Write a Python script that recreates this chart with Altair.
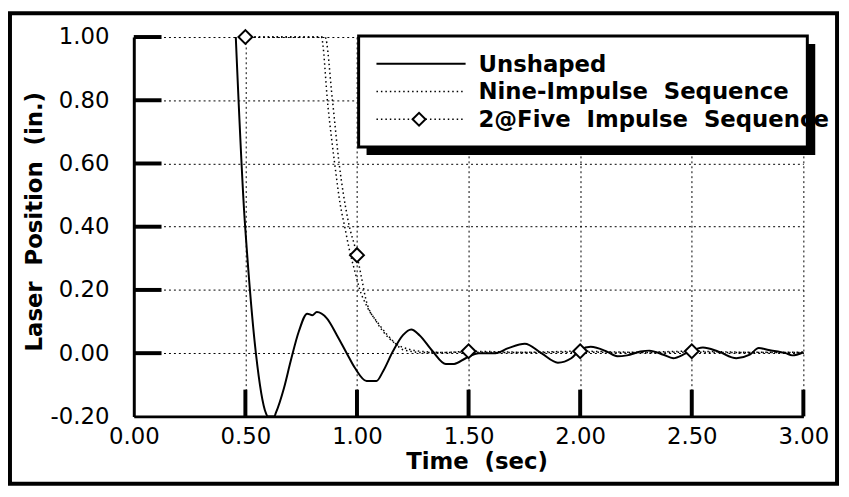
import altair as alt
import pandas as pd

# ---------------- data ----------------
t_unshaped = [0.457, 0.497, 0.503, 0.547, 0.592, 0.600, 0.630, 0.636, 0.673, 0.703,
              0.740, 0.777, 0.800, 0.820, 0.865, 0.910, 0.954, 0.991, 1.043, 1.087,
              1.117, 1.161, 1.206, 1.243, 1.280, 1.339, 1.398, 1.435, 1.487, 1.546,
              1.620, 1.678, 1.752, 1.826, 1.900, 1.960, 2.000, 2.047, 2.120, 2.166,
              2.210, 2.270, 2.310, 2.373, 2.417, 2.476, 2.550, 2.620, 2.700, 2.760,
              2.800, 2.845, 2.920, 2.950, 3.000]
v_unshaped = [1.000, 0.420, 0.360, 0.000, -0.190, -0.200, -0.200, -0.190, -0.110, -0.025,
              0.070, 0.125, 0.120, 0.130, 0.110, 0.057, 0.000, -0.047, -0.088, -0.088,
              -0.057, 0.006, 0.057, 0.075, 0.057, 0.006, -0.034, -0.034, -0.016, 0.000,
              0.000, 0.016, 0.030, 0.000, -0.030, -0.016, 0.010, 0.020, 0.005, -0.010,
              -0.007, 0.005, 0.008, -0.005, -0.016, 0.000, 0.018, 0.005, -0.016, -0.005,
              0.016, 0.010, 0.000, -0.007, 0.003]

t_nine = [0.50, 0.84, 0.87, 0.90, 0.925, 0.945, 0.965, 0.99, 1.013, 1.043, 1.10,
          1.163, 1.21, 1.30, 1.50, 1.75, 2.00, 2.25, 2.50, 2.75, 3.00]
v_nine = [1.00, 1.00, 0.78, 0.60, 0.47, 0.40, 0.33, 0.26, 0.20, 0.15, 0.09,
          0.037, 0.010, 0.002, 0.003, 0.002, 0.003, 0.002, 0.003, 0.002, 0.002]

t_five = [0.50, 0.857, 0.89, 0.92, 0.96, 1.00, 1.02, 1.04, 1.087, 1.14, 1.20,
          1.30, 1.40, 1.50, 1.75, 2.00, 2.25, 2.50, 2.75, 3.00]
v_five = [1.00, 1.00, 0.80, 0.60, 0.42, 0.31, 0.24, 0.17, 0.10, 0.05, 0.02,
          0.005, 0.002, 0.006, 0.003, 0.006, 0.003, 0.006, 0.003, 0.003]

t_markers = [0.5, 1.0, 1.5, 2.0, 2.5]
v_markers = [1.00, 0.31, 0.006, 0.006, 0.006]

x_ticks = [0.0, 0.5, 1.0, 1.5, 2.0, 2.5, 3.0]
y_ticks = [-0.2, 0.0, 0.2, 0.4, 0.6, 0.8, 1.0]

legend_labels = ["Unshaped",
                 "Nine-Impulse \u00a0Sequence",
                 "2@Five \u00a0Impulse \u00a0Sequence"]

x_title = "Time \u00a0(sec)"
y_title = "Laser \u00a0Position \u00a0(in.)"

# ---------------- layout ----------------
W, H = 676, 383
FONT = "DejaVu Sans"
GRIDDOT = [2, 3]
DOT = [1.5, 3]

xscale = alt.Scale(domain=[0, 3], nice=False, zero=False)
yscale = alt.Scale(domain=[-0.2, 1.0], nice=False, zero=False)

x_axis = alt.Axis(values=x_ticks, format=".2f", ticks=False, grid=True,
                  gridColor="black", gridDash=GRIDDOT, gridWidth=1, gridOpacity=1,
                  domainColor="black", domainWidth=3,
                  labelFont=FONT, labelFontSize=23, labelColor="black",
                  labelPadding=9, labelFlush=False, labelOverlap=False,
                  title=x_title, titleFont=FONT, titleFontSize=23,
                  titleFontWeight="bold", titleColor="black",
                  titleX=346, titleY=53, titleAlign="center",
                  titleBaseline="alphabetic")
y_axis = alt.Axis(values=y_ticks, ticks=False, grid=True,
                  labelExpr="datum.value < 0 ? '-' + format(-datum.value, '.2f') : format(datum.value, '.2f')",
                  gridColor="black", gridDash=GRIDDOT, gridWidth=1, gridOpacity=1,
                  domainColor="black", domainWidth=3,
                  labelFont=FONT, labelFontSize=23, labelColor="black",
                  labelPadding=25, labelFlush=False, labelOverlap=False,
                  title=y_title, titleFont=FONT, titleFontSize=23,
                  titleFontWeight="bold", titleColor="black",
                  titleX=-93, titleY=186, titleAlign="center", titleAngle=270,
                  titleBaseline="alphabetic")

X = alt.X("t:Q", scale=xscale, axis=x_axis)
Y = alt.Y("v:Q", scale=yscale, axis=y_axis)

df_un = pd.DataFrame({"t": t_unshaped, "v": v_unshaped})
df_nine = pd.DataFrame({"t": t_nine, "v": v_nine})
df_five = pd.DataFrame({"t": t_five, "v": v_five})
df_mk = pd.DataFrame({"t": t_markers, "v": v_markers})

unshaped = alt.Chart(df_un).mark_line(color="black", strokeWidth=2,
                                      interpolate="monotone").encode(x=X, y=Y)
nine = alt.Chart(df_nine).mark_line(color="black", strokeWidth=1.5, strokeDash=DOT,
                                    interpolate="monotone").encode(x=X, y=Y)
five = alt.Chart(df_five).mark_line(color="black", strokeWidth=1.5, strokeDash=DOT,
                                    interpolate="monotone").encode(x=X, y=Y)
markers = alt.Chart(df_mk).mark_point(shape="diamond", size=196, filled=True,
                                      fill="white", stroke="black", strokeWidth=2,
                                      opacity=1).encode(x=X, y=Y)

# inward ticks
ytick_rules = alt.Chart(pd.DataFrame({"v": y_ticks[1:]})).mark_rule(
    color="black", strokeWidth=4).encode(x=alt.value(0), x2=alt.value(28), y=Y)
xtick_rules = alt.Chart(pd.DataFrame({"t": x_ticks[1:]})).mark_rule(
    color="black", strokeWidth=4).encode(x=X, y=alt.value(H - 27), y2=alt.value(H))

one = pd.DataFrame({"a": [0]})

# legend box with drop shadow
LX0, LX1, LY0, LY1, SH = 227, 680, -1, 111, 8
shadow = alt.Chart(one).mark_rect(color="black").encode(
    x=alt.value(LX0 + SH), x2=alt.value(LX1 + SH),
    y=alt.value(LY0 + SH), y2=alt.value(LY1 + SH))
box = alt.Chart(one).mark_rect(fill="white", stroke="black", strokeWidth=3).encode(
    x=alt.value(LX0), x2=alt.value(LX1), y=alt.value(LY0), y2=alt.value(LY1))

legend_layers = []
for i, lab in enumerate(legend_labels):
    ry = 27 + 28 * i
    line_kw = dict(color="black", strokeWidth=2)
    if i > 0:
        line_kw["strokeDash"] = DOT
        line_kw["strokeWidth"] = 1.5
    legend_layers.append(alt.Chart(one).mark_rule(**line_kw).encode(
        x=alt.value(245), x2=alt.value(335), y=alt.value(ry)))
    if i == 2:
        legend_layers.append(alt.Chart(one).mark_point(
            shape="diamond", size=170, filled=True, fill="white", stroke="black",
            strokeWidth=2, opacity=1).encode(x=alt.value(288), y=alt.value(ry)))
    legend_layers.append(alt.Chart(pd.DataFrame({"label": [lab]})).mark_text(
        align="left", baseline="middle", font=FONT, fontSize=23,
        fontWeight="bold", color="black").encode(
        x=alt.value(348), y=alt.value(ry + 1), text="label:N"))

# outer frame
frame = alt.Chart(one).mark_rect(fillOpacity=0, stroke="black", strokeWidth=4).encode(
    x=alt.value(-125), x2=alt.value(710), y=alt.value(-24), y2=alt.value(451))

chart = alt.layer(
    unshaped, nine, five, xtick_rules, ytick_rules, markers,
    shadow, box, *legend_layers, frame
).properties(
    width=W, height=H,
    autosize=alt.AutoSizeParams(type="none"),
    padding={"left": 127, "top": 27, "right": 38, "bottom": 71},
    background="white",
).configure_view(stroke=None)

chart.save("out.html", embed_options={"renderer": "svg", "actions": False})
